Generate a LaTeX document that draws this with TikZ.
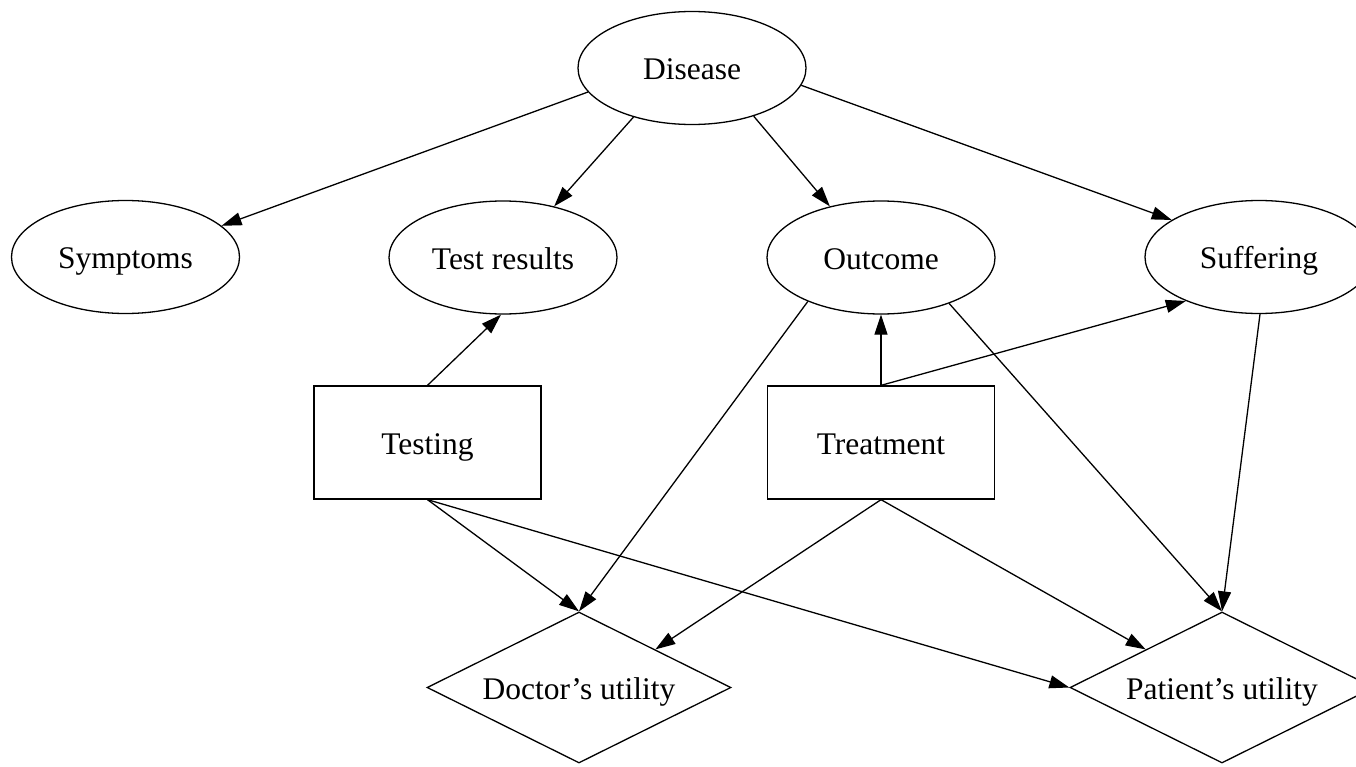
\documentclass[tikz,border=0pt]{standalone}
\usepackage{fontspec}
\setmainfont{Liberation Serif}
\usetikzlibrary{shapes.geometric,arrows.meta}
\begin{document}
\begin{tikzpicture}[x=1bp,y=-1bp,
  every node/.style={font=\fontsize{31.5bp}{38bp}\selectfont, inner sep=0pt, line width=1.3bp, text height=23.6bp, text depth=0pt},
  ell/.style={draw, ellipse, minimum width=228bp, minimum height=113bp},
  box/.style={draw, rectangle, minimum width=227bp, minimum height=113bp},
  dia/.style={draw, diamond, aspect=2, minimum width=304bp, minimum height=151bp},
  edge/.style={-{Triangle[length=20bp,width=13bp]}, line width=1.3bp}]
\useasboundingbox (0,0) rectangle (1356,766);
\clip (0,0) rectangle (1356,766);
\node[ell] (disease) at (692,68) {Disease};
\node[ell] (symptoms) at (125.5,257) {Symptoms};
\node[ell] (testres) at (503,257.5) {Test results};
\node[ell] (outcome) at (881,257.5) {Outcome};
\node[ell] (suffering) at (1259,257) {Suffering};
\node[box] (testing) at (427.5,442.5) {Testing};
\node[box] (treatment) at (881,442.5) {Treatment};
\node[dia] (doctor) at (579,687.5) {Doctor’s utility};
\node[dia] (patient) at (1222,687.5) {Patient’s utility};
\draw[edge] (disease.193) -- (symptoms.18.5);
\draw[edge] (disease.220.5) -- (testres.45);
\draw[edge] (disease.322) -- (outcome.135);
\draw[edge] (disease.351) -- (suffering.157);
\draw[edge] (testing.north) -- (testres.268);
\draw[edge] (treatment.north) -- (outcome.south);
\draw[edge] (treatment.north) -- (suffering.211);
\draw[edge] (outcome.211) -- (doctor.north);
\draw[edge] (outcome.326.6) -- (patient.north);
\draw[edge] (suffering.271) -- (patient.north);
\draw[edge] (testing.south) -- (doctor.north);
\draw[edge] (testing.south) -- (patient.west);
\draw[edge] (treatment.south) -- (doctor.north east);
\draw[edge] (treatment.south) -- (patient.north west);
\end{tikzpicture}
\end{document}
